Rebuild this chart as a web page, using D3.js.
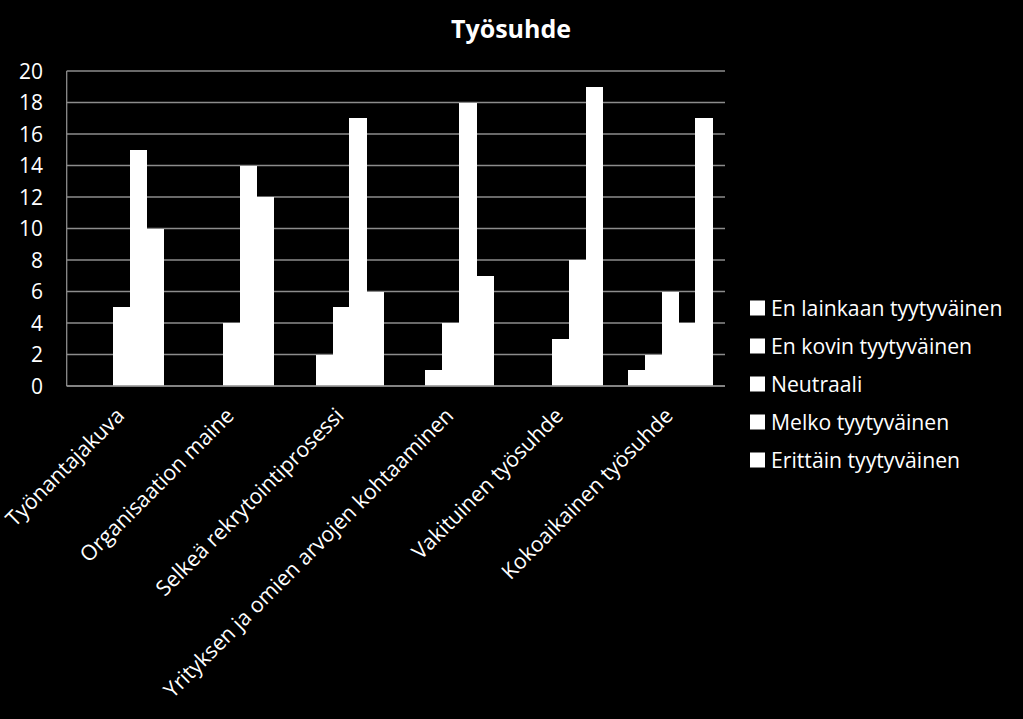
<!DOCTYPE html>
<html>
<head>
<meta charset="utf-8">
<script src="https://cdn.jsdelivr.net/npm/d3@7"></script>
<style>
	body { margin: 0; background: #000; }
	text { font-family: "Open Sans", Lato, sans-serif; fill: #fff; }
</style>
</head>
<body>
<svg id="chart"></svg>
<script>
var categories = ["Työnantajakuva", "Organisaation maine", "Selkeä rekrytointiprosessi",
	"Yrityksen ja omien arvojen kohtaaminen", "Vakituinen työsuhde", "Kokoaikainen työsuhde"]
var seriesNames = ["En lainkaan tyytyväinen", "En kovin tyytyväinen", "Neutraali",
	"Melko tyytyväinen", "Erittäin tyytyväinen"]
var enLainkaan = [0, 0, 0, 0, 0, 1]
var enKovin = [0, 0, 2, 1, 0, 2]
var neutraali = [5, 4, 5, 4, 3, 6]
var melko = [15, 14, 17, 18, 8, 4]
var erittain = [10, 12, 6, 7, 19, 17]
var yTicks = [0, 2, 4, 6, 8, 10, 12, 14, 16, 18, 20]

var seriesValues = [enLainkaan, enKovin, neutraali, melko, erittain]

var dimensions = {
	width: 1023,
	height: 719,
	margin: { top: 71, bottom: 333, left: 66.7, right: 298 }
}

var svg = d3.select("#chart")
	.attr("width", dimensions.width)
	.attr("height", dimensions.height)

svg.append("rect")
	.attr("width", dimensions.width)
	.attr("height", dimensions.height)
	.attr("fill", "#000")

var xScale = d3.scaleBand()
	.domain(categories)
	.range([dimensions.margin.left, dimensions.width - dimensions.margin.right])
	.paddingInner(1.5 / 6.5)
	.paddingOuter(0.75 / 6.5)

var xSub = d3.scaleBand()
	.domain(seriesNames)
	.range([0, xScale.bandwidth()])

var yScale = d3.scaleLinear()
	.domain([0, 20])
	.range([dimensions.height - dimensions.margin.bottom, dimensions.margin.top])

var x0 = dimensions.margin.left
var x1 = dimensions.width - dimensions.margin.right

// gridlines
svg.append("g")
	.selectAll("line")
	.data(yTicks)
	.enter()
	.append("line")
	.attr("x1", x0)
	.attr("x2", x1)
	.attr("y1", d => yScale(d))
	.attr("y2", d => yScale(d))
	.style("stroke", "#8c8c8c")
	.style("stroke-width", 1.3)

// left axis line
svg.append("line")
	.attr("x1", x0).attr("x2", x0)
	.attr("y1", yScale(20)).attr("y2", yScale(0))
	.style("stroke", "#8c8c8c")
	.style("stroke-width", 1.3)

// bars
var groups = svg.append("g")
	.selectAll("g")
	.data(categories)
	.enter()
	.append("g")
	.attr("transform", d => "translate(" + xScale(d) + ",0)")

groups.selectAll("rect")
	.data((c, ci) => seriesNames.map((s, si) => ({ series: s, value: seriesValues[si][ci] })))
	.enter()
	.append("rect")
	.attr("x", d => xSub(d.series))
	.attr("width", xSub.bandwidth() + 0.6)
	.attr("y", d => yScale(d.value))
	.attr("height", d => yScale(0) - yScale(d.value))
	.attr("fill", "#fff")
	.attr("shape-rendering", "crispEdges")

// baseline over bars
svg.append("line")
	.attr("x1", x0).attr("x2", x1)
	.attr("y1", yScale(0)).attr("y2", yScale(0))
	.style("stroke", "#8c8c8c")
	.style("stroke-width", 1.3)

// y tick labels
svg.append("g")
	.selectAll("text")
	.data(yTicks)
	.enter()
	.append("text")
	.attr("x", 43)
	.attr("y", d => yScale(d))
	.attr("dy", "0.36em")
	.attr("text-anchor", "end")
	.style("font-size", "21px")
	.text(d => d)

// category labels
svg.append("g")
	.selectAll("text")
	.data(categories)
	.enter()
	.append("text")
	.attr("transform", d => "translate(" + (xScale(d) + xScale.bandwidth() / 2 + 4) + "," + (yScale(0) + 31) + ") rotate(-45)")
	.attr("text-anchor", "end")
	.style("font-size", "21.3px")
	.text(d => d)

// title
svg.append("text")
	.attr("x", 511)
	.attr("y", 38)
	.attr("text-anchor", "middle")
	.style("font-size", "25px")
	.style("font-weight", "bold")
	.text("Työsuhde")

// legend
var legend = svg.append("g")
	.attr("transform", "translate(750, 308)")

legend.selectAll("rect")
	.data(seriesNames)
	.enter()
	.append("rect")
	.attr("x", 0)
	.attr("y", (d, i) => i * 38 - 7.5)
	.attr("width", 15)
	.attr("height", 15)
	.attr("fill", "#fff")

legend.selectAll("text")
	.data(seriesNames)
	.enter()
	.append("text")
	.attr("x", 21)
	.attr("y", (d, i) => i * 38)
	.attr("dy", "0.36em")
	.style("font-size", "21.2px")
	.text(d => d)
</script>
</body>
</html>
